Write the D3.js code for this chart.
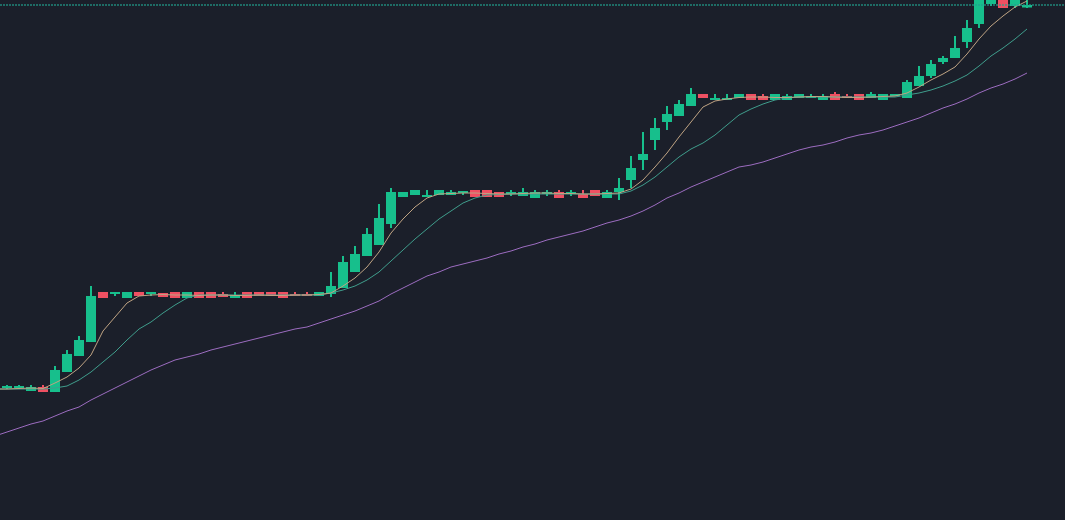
<!DOCTYPE html>
<html>
<head>
<meta charset="utf-8">
<script src="https://cdn.jsdelivr.net/npm/d3@7"></script>
<style>
html,body{margin:0;padding:0;background:#1b1f2a;overflow:hidden;}
svg{display:block;}
</style>
</head>
<body>
<svg id="chart" width="1065" height="520"></svg>
<script>
// Candle data (price units), bars 0..85
const opens = [
  132,133,129,133,128,148,164,178,228,226,
  222,228,226,227,228,222,228,228,226,222,
  228,228,228,228,226,226,224,226,232,248,
  264,275,296,323,325,323,325,325,328,330,
  330,328,326,324,322,326,328,326,326,330,
  322,328,340,360,380,398,404,414,426,420,
  420,422,426,424,420,420,422,422,420,426,
  424,426,422,420,424,422,434,444,458,462,
  478,496,516,522,514,512.5];
const highs = [
  135,135,135,135,154,170,184,234,228,228,
  228,228,228,227,228,228,228,228,228,228,
  228,228,228,228,228,228,228,248,264,274,
  292,316,332,328,330,330,330,330,329,330,
  330,328,330,332,330,330,330,330,330,330,
  330,342,364,388,402,414,420,432,426,426,
  426,426,426,426,426,426,426,426,426,428,
  426,426,428,426,426,440,454,460,464,484,
  500,528,527,524,522,520];
const lows = [
  131,132.5,129,128,128,148,164,178,222,224,
  222,224,224,223,222,222,222,222,223,222,
  222,224,224,222,224,224,224,223,232,248,
  264,275,292,323,325,323,325,325,325,323,
  323,323,324,324,322,324,322,324,322,324,
  322,320,332,350,370,390,404,414,422,420,
  420,422,420,420,420,420,422,422,420,420,
  422,420,422,420,424,422,434,442,456,462,
  472,492,514,512,512,512];
const closes = [
  134,134,133,128,150,166,180,224,222,228,
  228,224,228,223,222,228,222,222,223,225,
  222,224,224,222,224,224,228,234,258,266,
  286,302,328,328,330,325,330,328,329,323,
  323,323,328,328,328,328,322,328,322,324,
  328,332,352,366,392,406,416,426,422,422,
  422,426,420,420,426,424,426,424,424,420,
  422,420,426,426,426,438,444,456,462,472,
  492,522,524,512,521,515];

// Moving averages (price units); first value belongs to the off-screen bar -1
const maFast = [131,
  131,131.5,132,131.5,137,143,152,165,189,203,
  217,224,225,225.5,225,225,224.5,225,225,224.5,
  224.5,225,224.5,224.5,225,225,225.5,227,234,242,
  253,268,287,301,313,322,326,326.5,327,327,
  326.5,326,326,326.5,327,327,326.5,326.5,326,326,
  326.5,327,331,340,353,367,383,398,413,419,
  421,422.5,423,423,422.5,422.5,423,423.5,423.5,423,
  422.5,422.5,423,423.5,424,427,433,440,446,453,
  466,481,494,504,513,519];
const maMid = [131,
  131,131,131,131,132,134,140,148,158,168,
  180,191,198,207,215,222,225,225,225,225,
  225,225,225,225,225,225,225,227,230,234,
  240,248,259,270,281,291,301,309,317,322,
  325,325.5,326,326,326,326,326,326,326,326,
  326,326,329,335,343,353,363,371,377,385,
  395,405,411,416,420,422,423,423,423,423,
  423,423,423,423,423,425,427,430,434,439,
  445,454,464,472,481,491];
const maSlow = [84,
  88,92,96,99,104,109,113,120,126,132,
  138,144,150,155,160,163,166,170,173,176,
  179,182,185,188,191,193,197,201,205,209,
  214,219,226,232,238,244,248,253,256,259,
  262,266,269,273,276,280,283,286,289,293,
  297,300,304,309,315,322,327,333,338,343,
  348,353,355,358,362,366,370,373,375,378,
  382,385,387,390,394,398,402,407,412,416,
  421,427,432,436,441,447];

const W = 1065, H = 520;
const svg = d3.select('#chart');
svg.append('rect').attr('width', W).attr('height', H).attr('fill', '#1b1f2a');

const n = closes.length;
const x = d3.scaleLinear().domain([0, n - 1]).range([7, 1027]);
const y = d3.scaleLinear().domain([0, 520]).range([520, 0]);

const UP = '#17bf8c', DOWN = '#ef5062';
const bodyW = 10;

const candles = d3.range(n).map(i => ({i, o: opens[i], h: highs[i], l: lows[i], c: closes[i]}));

const g = svg.append('g');
const cg = g.selectAll('g.candle').data(candles).join('g').attr('class', 'candle');

cg.append('rect')
  .attr('x', d => Math.round(x(d.i)) - 1)
  .attr('width', 2)
  .attr('y', d => y(d.h))
  .attr('height', d => Math.max(1, y(d.l) - y(d.h)))
  .attr('fill', d => d.c >= d.o ? UP : DOWN);

cg.append('rect')
  .attr('x', d => Math.round(x(d.i)) - bodyW / 2)
  .attr('width', bodyW)
  .attr('y', d => y(Math.max(d.o, d.c)))
  .attr('height', d => Math.max(2, Math.abs(y(d.o) - y(d.c))))
  .attr('fill', d => d.c >= d.o ? UP : DOWN);

const line = d3.line().x((d, i) => x(i - 1)).y(d => y(d));

const mas = [
  {data: maSlow, color: '#9c6cc0'},
  {data: maMid, color: '#3f9d8c'},
  {data: maFast, color: '#bfa383'}
];
mas.forEach(m => {
  g.append('path')
    .attr('d', line(m.data))
    .attr('fill', 'none')
    .attr('stroke', m.color)
    .attr('stroke-width', 1);
});

// last price line
const ly = Math.round(y(closes[n - 1]));
g.append('line')
  .attr('x1', 0).attr('x2', W)
  .attr('y1', ly).attr('y2', ly)
  .attr('stroke', '#22a08f')
  .attr('stroke-opacity', 0.8)
  .attr('stroke-width', 1.5)
  .attr('stroke-dasharray', '2,1');
</script>
</body>
</html>
